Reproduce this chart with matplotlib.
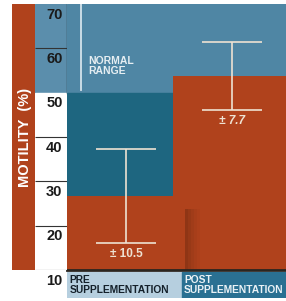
import numpy as np
import matplotlib.pyplot as plt
from matplotlib.patches import Rectangle

# data
groups = ['PRE\nSUPPLEMENTATION', 'POST\nSUPPLEMENTATION']
means = [26.7, 53.8]
errs = [10.5, 7.7]
err_labels = ['± 10.5', '± 7.7']
ticks = [70, 60, 50, 40, 30, 20, 10]
normal_low = 50
y_label = 'MOTILITY  (%)'

red = '#B0421C'
blue_up = '#4F86A4'
teal = '#1E6680'
cream = '#EEE2D2'
font = ['Liberation Sans', 'DejaVu Sans']

W, H = 286, 301
def box(x0, y0, x1, y1):
    return [x0 / W, 1 - y1 / H, (x1 - x0) / W, (y1 - y0) / H]

fig = plt.figure(figsize=(2.86, 3.01), dpi=100)

# main plot area
ax = fig.add_axes(box(67, 4, 286, 270))
ax.set_xlim(0, 2.19)
ax.set_ylim(10, 70)
ax.axhspan(normal_low, 70, color=blue_up, zorder=0)
ax.axhspan(10, normal_low, color=teal, zorder=0)

lefts = [0, 1.06]
widths = [1.18, 1.13]
centers = [0.59, 1.65]

# post bar behind, pre bar in front with a soft shadow
ax.bar(lefts[1], means[1] - 10, bottom=10, width=widths[1], align='edge',
       color=red, zorder=2)
for i, a in enumerate([0.28, 0.2, 0.13, 0.07, 0.03]):
    ax.bar(lefts[0] + widths[0] + i * 0.03, means[0] - 13, bottom=10, width=0.03,
           align='edge', color='#3a1505', alpha=a, zorder=2.5, linewidth=0)
ax.bar(lefts[0], means[0] - 10, bottom=10, width=widths[0], align='edge',
       color=red, zorder=3)

ax.errorbar(centers, means, yerr=errs, fmt='none', ecolor=cream,
            elinewidth=1.2, capsize=21.5, capthick=1.2, zorder=4)
ax.text(centers[0], means[0] - errs[0] - 1.2, err_labels[0], ha='center', va='top',
        color=cream, fontsize=8.5, fontweight='bold', family=font, zorder=5)
ax.text(centers[1], means[1] - errs[1] - 1.2, err_labels[1], ha='center', va='top',
        color=cream, fontsize=8.5, fontweight='bold', style='italic', family=font,
        zorder=5)

# normal range marker
ax.plot([0.14, 0.14], [normal_low + 0.5, 70], color='#D5E4EC', lw=1.3, zorder=4)
ax.text(0.21, 56, 'NORMAL\nRANGE', color='#E6EEF2', fontsize=7.5,
        fontweight='bold', family=font, va='center', ha='left', linespacing=0.95)
ax.axhline(10, color='#2a2520', lw=2, clip_on=False, zorder=6)
ax.axis('off')

# tick column
axt = fig.add_axes(box(35, 4, 67, 270))
axt.set_xlim(0, 1)
axt.set_ylim(10, 70)
axt.axhspan(normal_low, 70, color='#5B8EAC', zorder=0)
axt.axhspan(10, normal_low, color='white', zorder=0)
axt.hlines([60, 40, 30, 20, 10], 0, 1, color='#333333', lw=0.8)
axt.axvline(1, ymin=(normal_low - 10) / 60, ymax=1, color='#233845', lw=1)
for t in ticks:
    axt.text(0.86, t - 2.4, str(t), ha='right', va='center', fontsize=10.5,
             fontweight='bold', family=font, color='#1a1a1a', clip_on=False)
axt.axis('off')

# left label strip
axl = fig.add_axes(box(12, 4, 35, 270))
axl.add_patch(Rectangle((0, 0), 1, 1, color=red, transform=axl.transAxes))
axl.text(0.55, 0.5, y_label, rotation=90, ha='center', va='center', color='white',
         fontsize=10.5, fontweight='bold', family=font)
axl.axis('off')

# category boxes
axb = fig.add_axes(box(67, 272, 286, 298))
split = (182 - 67) / 219
axb.add_patch(Rectangle((0, 0), split, 1, color='#B6CFDF'))
axb.add_patch(Rectangle((split, 0), 1 - split, 1, color='#2A7092'))
axb.text(0.012, 0.5, groups[0], ha='left', va='center', color='#14202a',
         fontsize=7.4, fontweight='heavy', family=font, linespacing=0.95)
axb.text(split + 0.01, 0.5, groups[1], ha='left', va='center', color='#EAF2F6',
         fontsize=7.4, fontweight='heavy', family=font, linespacing=0.95)
axb.set_xlim(0, 1)
axb.set_ylim(0, 1)
axb.axis('off')

fig.savefig('out.png', dpi=100)
